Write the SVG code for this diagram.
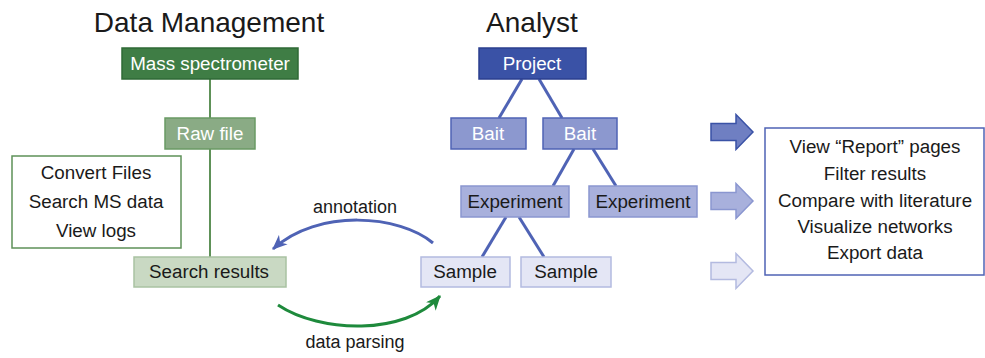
<svg xmlns="http://www.w3.org/2000/svg" width="985" height="358" viewBox="0 0 985 358">
  <defs>
    <style>
      text { font-family: "Liberation Sans", Arial, sans-serif; text-anchor: middle; }
      .title { font-size: 28px; fill: #1a1a1a; }
      .lbl { font-size: 18.8px; }
      .dark { fill: #ffffff; }
      .ink { fill: #1a1a1a; }
      .note { font-size: 18px; fill: #1a1a1a; }
      .gline { stroke: #5e9158; stroke-width: 2; fill: none; }
      .bline { stroke: #4f63b5; stroke-width: 3; fill: none; }
    </style>
    <marker id="headBlue" viewBox="0 0 14 12" refX="13" refY="6" markerWidth="15" markerHeight="13" orient="auto" markerUnits="userSpaceOnUse">
      <path d="M0,0 L14,6 L0,12 L4,6 Z" fill="#4f63b5"/>
    </marker>
    <marker id="headGreen" viewBox="0 0 14 12" refX="13" refY="6" markerWidth="15" markerHeight="13" orient="auto" markerUnits="userSpaceOnUse">
      <path d="M0,0 L14,6 L0,12 L4,6 Z" fill="#1e8a3c"/>
    </marker>
    <path id="bigArrow" d="M0,-8.5 H25 V-17.5 L42,0 L25,17.5 V8.5 H0 Z"/>
  </defs>

  <!-- column headings -->
  <text class="title" x="209" y="32">Data Management</text>
  <text class="title" x="532" y="32">Analyst</text>

  <!-- connectors -->
  <g id="connectors">
    <line class="gline" x1="210" y1="79" x2="210" y2="118"/>
    <line class="gline" x1="210" y1="149" x2="210" y2="257"/>
    <line class="bline" x1="522" y1="79" x2="499" y2="118"/>
    <line class="bline" x1="539" y1="79" x2="562" y2="118"/>
    <line class="bline" x1="574" y1="149" x2="553" y2="186"/>
    <line class="bline" x1="593" y1="149" x2="616" y2="186"/>
    <line class="bline" x1="506" y1="217" x2="482" y2="257"/>
    <line class="bline" x1="519" y1="217" x2="544" y2="257"/>
    <path d="M433,243 C400,215 318,208 273,249" stroke="#4f63b5" stroke-width="3" fill="none" marker-end="url(#headBlue)"/>
    <path d="M278,305 C320,333 405,336 440,296" stroke="#1e8a3c" stroke-width="3" fill="none" marker-end="url(#headGreen)"/>
  </g>
  <text class="note" x="355" y="213">annotation</text>
  <text class="note" x="355" y="348">data parsing</text>

  <!-- data management nodes -->
  <g id="mass-spectrometer">
    <rect x="122" y="48" width="176" height="31" fill="#3f7d45" stroke="#2f6a36" stroke-width="1.5"/>
    <text class="lbl dark" x="210" y="70">Mass spectrometer</text>
  </g>
  <g id="raw-file">
    <rect x="165" y="118" width="90" height="31" fill="#8aab85" stroke="#6a9a64" stroke-width="1.5"/>
    <text class="lbl dark" x="210" y="140">Raw file</text>
  </g>
  <g id="dm-actions">
    <rect x="12" y="156" width="169" height="92" fill="#ffffff" stroke="#5e9158" stroke-width="1.5"/>
    <text class="lbl ink" x="96" y="179">Convert Files</text>
    <text class="lbl ink" x="96" y="208">Search MS data</text>
    <text class="lbl ink" x="96" y="237">View logs</text>
  </g>
  <g id="search-results">
    <rect x="134" y="257" width="152" height="30" fill="#c9d9c3" stroke="#a9c2a2" stroke-width="1.5"/>
    <text class="lbl ink" x="209" y="278">Search results</text>
  </g>

  <!-- analyst hierarchy -->
  <g id="project">
    <rect x="479" y="48" width="107" height="31" fill="#3a52a6" stroke="#2b3f8f" stroke-width="1.5"/>
    <text class="lbl dark" x="532" y="70">Project</text>
  </g>
  <g id="bait-1">
    <rect x="451" y="118" width="75" height="31" fill="#8c98cf" stroke="#4f63b5" stroke-width="1.5"/>
    <text class="lbl dark" x="488" y="140">Bait</text>
  </g>
  <g id="bait-2">
    <rect x="543" y="118" width="74" height="31" fill="#8c98cf" stroke="#4f63b5" stroke-width="1.5"/>
    <text class="lbl dark" x="580" y="140">Bait</text>
  </g>
  <g id="experiment-1">
    <rect x="461" y="186" width="108" height="31" fill="#a8b0dc" stroke="#8a96d0" stroke-width="1.5"/>
    <text class="lbl ink" x="515" y="208">Experiment</text>
  </g>
  <g id="experiment-2">
    <rect x="589" y="186" width="108" height="31" fill="#a8b0dc" stroke="#8a96d0" stroke-width="1.5"/>
    <text class="lbl ink" x="643" y="208">Experiment</text>
  </g>
  <g id="sample-1">
    <rect x="421" y="257" width="89" height="30" fill="#e4e6f5" stroke="#b3bae0" stroke-width="1.5"/>
    <text class="lbl ink" x="465" y="278">Sample</text>
  </g>
  <g id="sample-2">
    <rect x="521" y="257" width="90" height="30" fill="#e4e6f5" stroke="#b3bae0" stroke-width="1.5"/>
    <text class="lbl ink" x="566" y="278">Sample</text>
  </g>

  <!-- level arrows -->
  <g id="arrow-bait">
    <use href="#bigArrow" x="711" y="132" fill="#6f7fc2" stroke="#3a52a6" stroke-width="1.5"/>
  </g>
  <g id="arrow-experiment">
    <use href="#bigArrow" x="711" y="201" fill="#a8b0dc" stroke="#8a96d0" stroke-width="1.5"/>
  </g>
  <g id="arrow-sample">
    <use href="#bigArrow" x="711" y="271" fill="#e4e6f5" stroke="#b3bae0" stroke-width="1.5"/>
  </g>

  <!-- analyst actions -->
  <g id="analyst-actions">
    <rect x="765" y="128" width="219" height="147" fill="#ffffff" stroke="#4f63b5" stroke-width="1.5"/>
    <text class="lbl ink" x="875" y="153">View “Report” pages</text>
    <text class="lbl ink" x="875" y="180">Filter results</text>
    <text class="lbl ink" x="875" y="207">Compare with literature</text>
    <text class="lbl ink" x="875" y="233">Visualize networks</text>
    <text class="lbl ink" x="875" y="259">Export data</text>
  </g>
</svg>
